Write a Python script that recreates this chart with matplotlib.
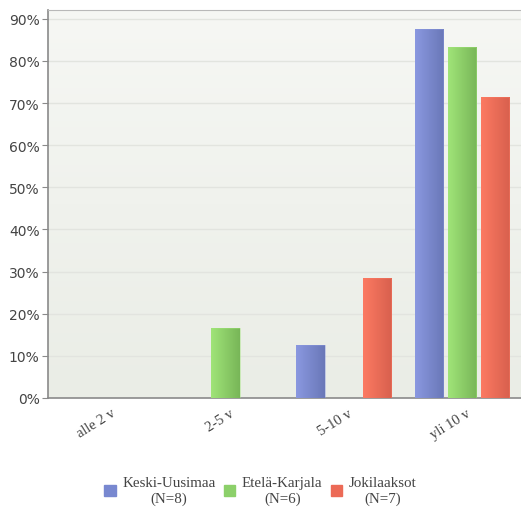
import matplotlib
matplotlib.use("Agg")
import matplotlib.pyplot as plt
import matplotlib.transforms as mtransforms
import numpy as np
from matplotlib.colors import LinearSegmentedColormap
from matplotlib.patches import Rectangle

categories = ["alle 2 v", "2-5 v", "5-10 v", "yli 10 v"]
series_names = ["Keski-Uusimaa\n(N=8)", "Etelä-Karjala\n(N=6)", "Jokilaaksot\n(N=7)"]
keski_uusimaa = [0.0, 0.0, 12.5, 87.5]
etela_karjala = [0.0, 16.67, 0.0, 83.33]
jokilaaksot = [0.0, 0.0, 28.57, 71.43]
yticks = [0, 10, 20, 30, 40, 50, 60, 70, 80, 90]

series = [keski_uusimaa, etela_karjala, jokilaaksot]
grad_colors = [("#8a98e0", "#6a78b8"), ("#a0e478", "#78b658"), ("#fc7a62", "#d8604e")]
legend_colors = ["#7888d0", "#8cd06a", "#ec6a56"]

fig = plt.figure(figsize=(5.21, 5.10), dpi=100)
ax = fig.add_axes([48 / 521, 1 - 399 / 510, 473 / 521, 388 / 510])

# soft vertical background gradient for the plot area
bg = LinearSegmentedColormap.from_list("bg", ["#eaede6", "#f6f7f4"])
ax.imshow(np.linspace(0, 1, 256).reshape(-1, 1), cmap=bg, aspect="auto",
          extent=[-0.5, 3.5, 0, 92.1], origin="lower", zorder=0)

ax.set_xlim(-0.5, 3.5)
ax.set_ylim(0, 92.1)

for y in yticks[1:]:
    ax.axhline(y, color="#e2e4df", lw=1.0, zorder=1)

x = np.arange(len(categories))
width = 0.24
step = 0.28
for i, (vals, (c0, c1)) in enumerate(zip(series, grad_colors)):
    cmap = LinearSegmentedColormap.from_list(f"g{i}", [c0, c1])
    pos = x + (i - 1) * step
    bars = ax.bar(pos, vals, width, color="none", edgecolor="none", zorder=2)
    for b in bars:
        h = b.get_height()
        if h <= 0:
            continue
        x0 = b.get_x()
        im = ax.imshow(np.linspace(0, 1, 64).reshape(1, -1), cmap=cmap, aspect="auto",
                       extent=[x0, x0 + b.get_width(), 0, h], zorder=3)
        clip = Rectangle((x0, 0), b.get_width(), h, transform=ax.transData)
        im.set_clip_path(clip)
        ax.add_patch(Rectangle((x0, 0), b.get_width(), h, fill=False,
                               edgecolor=c0, lw=0.6, alpha=0.5, zorder=4))

ax.spines["right"].set_visible(False)
ax.spines["top"].set_color("#b8b8b8")
ax.spines["left"].set_color("#8a8a8a")
ax.spines["bottom"].set_color("#8a8a8a")
ax.spines["left"].set_linewidth(1.2)
ax.spines["bottom"].set_linewidth(1.2)

ax.set_yticks(yticks)
ax.set_yticklabels([f"{v}%" for v in yticks], fontsize=10, color="#444444",
                   family="DejaVu Sans")
ax.tick_params(axis="y", length=4, color="#8a8a8a", pad=2)

ax.set_xticks(x)
ax.set_xticklabels(categories, rotation=32, ha="right", rotation_mode="anchor",
                   fontsize=10.5, color="#444444", family="Liberation Serif")
ax.tick_params(axis="x", length=0, pad=6)
shift = mtransforms.ScaledTranslation(4 / 100, 0, fig.dpi_scale_trans)
for lbl in ax.get_xticklabels():
    lbl.set_transform(lbl.get_transform() + shift)

handles = [Rectangle((0, 0), 1, 1, color=c) for c in legend_colors]
leg = fig.legend(handles, series_names, loc="lower center", bbox_to_anchor=(0.5, -0.018),
                 ncol=3, frameon=False, prop={"family": "Liberation Serif", "size": 10.8},
                 handlelength=0.75, handleheight=0.75, handletextpad=0.45, columnspacing=0.55,
                 labelcolor="#444444")
for t in leg.get_texts():
    t.set_multialignment("center")

fig.savefig("out.png", dpi=100)
